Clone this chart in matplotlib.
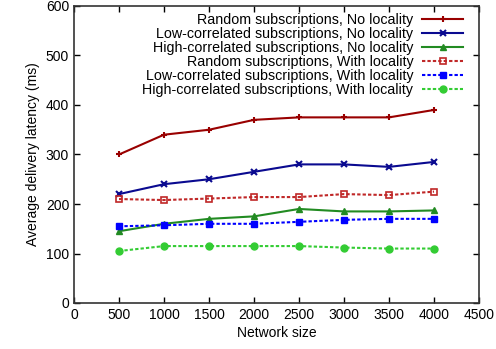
import matplotlib
matplotlib.use("Agg")
import matplotlib.pyplot as plt

plt.rcParams['font.family'] = ['Liberation Sans', 'DejaVu Sans']

sizes = [500, 1000, 1500, 2000, 2500, 3000, 3500, 4000]

rand_noloc = [300, 340, 350, 370, 375, 375, 375, 390]
low_noloc = [220, 240, 250, 265, 280, 280, 275, 285]
high_noloc = [145, 160, 170, 175, 190, 185, 185, 187]
rand_loc = [210, 208, 211, 214, 214, 220, 218, 225]
low_loc = [155, 157, 160, 160, 164, 168, 170, 170]
high_loc = [105, 115, 115, 115, 115, 112, 110, 110]

labels = [
    "Random subscriptions, No locality",
    "Low-correlated subscriptions, No locality",
    "High-correlated subscriptions, No locality",
    "Random subscriptions, With locality",
    "Low-correlated subscriptions, With locality",
    "High-correlated subscriptions, With locality",
]

dash = (0, (1.6, 1.0))

fig = plt.figure(figsize=(4.96, 3.49), dpi=100)
ax = fig.add_axes([74 / 496, 1 - 303 / 349, 405 / 496, 297 / 349])

ax.plot(sizes, rand_noloc, color='#990000', lw=1.5, marker='+', ms=4, mew=1.5, label=labels[0])
ax.plot(sizes, low_noloc, color='#0a0a90', lw=1.5, marker='x', ms=4, mew=1.5, label=labels[1])
ax.plot(sizes, high_noloc, color='#228B22', lw=1.5, marker='^', ms=5, label=labels[2])
ax.plot(sizes, rand_loc, color='#c02828', lw=1.5, ls=dash, marker='s', ms=5,
        mfc='none', mew=1.2, label=labels[3])
ax.plot(sizes, low_loc, color='#0000ff', lw=1.5, ls=dash, marker='s', ms=4.5, label=labels[4])
ax.plot(sizes, high_loc, color='#33cc33', lw=1.5, ls=dash, marker='o', ms=5, label=labels[5])

ax.set_xlim(0, 4500)
ax.set_ylim(0, 600)
ax.set_xticks(range(0, 4501, 500))
ax.set_yticks(range(0, 601, 100))
ax.tick_params(direction='in', top=True, right=True, labelsize=10, length=4, width=1)
ax.set_xlabel("Network size", fontsize=10, labelpad=3)
ax.set_ylabel("Average delivery latency (ms)", fontsize=10, labelpad=4)
for s in ax.spines.values():
    s.set_linewidth(1.2)
    s.set_color('#333333')

leg = ax.legend(loc='upper right', bbox_to_anchor=(1 - 7 / 405, 1 + 2 / 297),
                markerfirst=False, frameon=False, fontsize=10.3,
                handlelength=2.9, labelspacing=0.0, borderaxespad=0.3, handletextpad=0.6,
                borderpad=0.3)
for t in leg.get_texts():
    t.set_ha('right')
leg._legend_box.align = 'right'

fig.savefig("out.png", dpi=100)
